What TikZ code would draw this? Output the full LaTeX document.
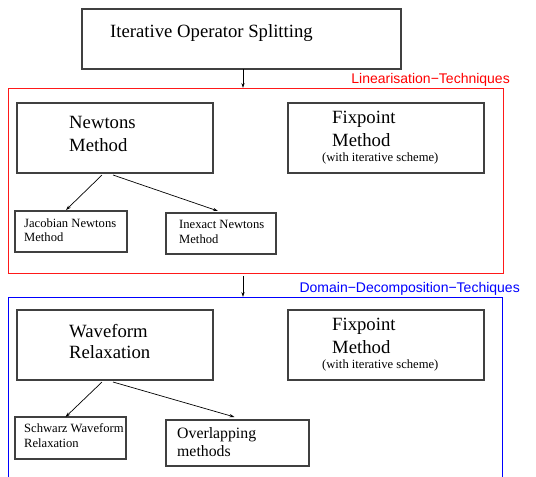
\documentclass[tikz,border=0pt]{standalone}
\usepackage{fontspec}
\setmainfont{Liberation Serif}
\newfontfamily\labelfont{Liberation Sans}
\usetikzlibrary{arrows.meta}
\tikzset{
  box/.style={draw=black!75, line width=1.2pt, inner sep=0pt, outer sep=0pt, anchor=north west},
  txt/.style={anchor=base west, inner sep=0pt, align=left},
  big/.style={font=\fontsize{18.7}{21}\selectfont},
  mid/.style={font=\fontsize{15.8}{18}\selectfont},
  small/.style={font=\fontsize{12.6}{14}\selectfont},
  lab/.style={font=\labelfont\fontsize{14}{16}\selectfont, anchor=base east, inner sep=0pt},
  arr/.style={draw=black, line width=0.7pt, -{Stealth[length=5pt,width=3.2pt]}},
  frame/.style={line width=1pt, inner sep=0pt, outer sep=0pt, anchor=north west}
}
\begin{document}
\begin{tikzpicture}[x=1pt,y=-1pt]
\useasboundingbox (0,0) rectangle (536,477);
\clip (0,0) rectangle (536,477);
% top
\node[box, minimum width=319pt, minimum height=60pt] (top) at (82,9) {};
\node[txt, big] (toptxt) at (110,37) {Iterative Operator Splitting};
% red frame
\node[frame, draw=red!90, minimum width=495pt, minimum height=185pt] (red) at (8,88) {};
\node[lab, text=red] (redlab) at (510,83) {Linearisation−Techniques};
% Newtons
\node[box, minimum width=196pt, minimum height=70pt] (newton) at (17,103) {};
\node[txt, big] (newt1) at (69,128) {Newtons};
\node[txt, big] (newt2) at (69,151) {Method};
% Fixpoint 1
\node[box, minimum width=196pt, minimum height=70pt] (fix1) at (288,103) {};
\node[txt, big] (fix1a) at (332,123) {Fixpoint};
\node[txt, big] (fix1b) at (332,146) {Method};
\node[txt, small] (fix1c) at (322,161) {(with iterative scheme)};
% Jacobian
\node[box, minimum width=112pt, minimum height=41pt] (jac) at (15,211) {};
\node[txt, small] (jac1) at (24,227) {Jacobian Newtons};
\node[txt, small] (jac2) at (24,241) {Method};
% Inexact
\node[box, minimum width=110pt, minimum height=41pt] (inex) at (166,213) {};
\node[txt, small] (inex1) at (179,228) {Inexact Newtons};
\node[txt, small] (inex2) at (179,243) {Method};
% blue frame
\node[frame, draw=blue, minimum width=494pt, minimum height=200pt] (blue) at (8,297) {};
\node[lab, text=blue] (bluelab) at (520,292) {Domain−Decomposition−Techiques};
% Waveform
\node[box, minimum width=196pt, minimum height=70pt] (wave) at (17,310) {};
\node[txt, big] (wave1) at (69,337) {Waveform};
\node[txt, big] (wave2) at (69,358) {Relaxation};
% Fixpoint 2
\node[box, minimum width=196pt, minimum height=70pt] (fix2) at (288,310) {};
\node[txt, big] (fix2a) at (332,330) {Fixpoint};
\node[txt, big] (fix2b) at (332,353) {Method};
\node[txt, small] (fix2c) at (322,368) {(with iterative scheme)};
% Schwarz
\node[box, minimum width=111pt, minimum height=42pt] (schw) at (15,417) {};
\node[txt, small] (schw1) at (24,432) {Schwarz Waveform};
\node[txt, small] (schw2) at (24,447) {Relaxation};
% Overlapping
\node[box, minimum width=143pt, minimum height=46pt] (over) at (166,420) {};
\node[txt, mid] (over1) at (177,438) {Overlapping};
\node[txt, mid] (over2) at (177,456) {methods};
% connectors
\draw[arr] ([xshift=1.5pt]top.south) -- ([xshift=1.5pt]top.south |- red.north);
\draw[arr] ([xshift=1.5pt,yshift=-3pt]top.south |- red.south) -- ([xshift=1.5pt]top.south |- blue.north);
\draw[arr] ([xshift=-13pt,yshift=-2pt]newton.south) -- ([xshift=-5pt,yshift=1pt]jac.north);
\draw[arr] ([xshift=-2pt,yshift=-2pt]newton.south) -- ([xshift=-3pt,yshift=2pt]inex.north);
\draw[arr] ([xshift=-13pt,yshift=-2pt]wave.south) -- ([xshift=-5pt]schw.north);
\draw[arr] ([xshift=-2pt,yshift=-2pt]wave.south) -- ([xshift=-3pt,yshift=3pt]over.north);
\end{tikzpicture}
\end{document}
